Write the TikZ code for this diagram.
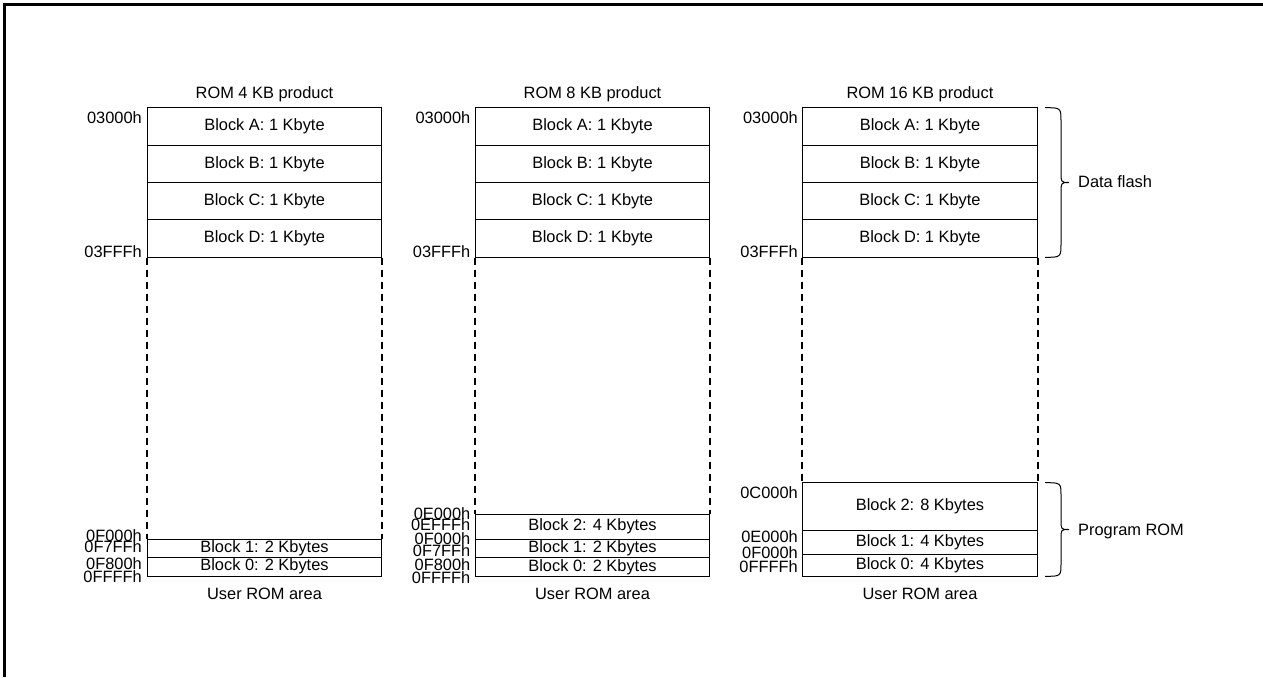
\documentclass[tikz,border=0pt]{standalone}
\usepackage{fontspec}
\setmainfont{Liberation Sans}
\begin{document}
\begin{tikzpicture}[x=1pt,y=-1pt,
  every node/.style={font=\fontsize{16.4}{19}\selectfont, inner sep=0pt},
  cell/.style={draw, line width=1pt, minimum width=234.5pt, minimum height=#1},
  addr/.style={anchor=east},
  dashline/.style={line width=2pt, dash pattern=on 7pt off 5pt},
  bracestyle/.style={line width=1pt},
  frameline/.style={line width=3pt}]
\useasboundingbox (0,0) rectangle (1263,677);
\draw[frameline] (4.5,677) -- (4.5,5) -- (1263,5);

% ---------- Column 1: ROM 4 KB ----------
\node (t1) at (264.5,94) {ROM 4 KB product};
\node[cell=37.4pt] (c1a) at (264.5,126.4) {Block A: 1 Kbyte};
\node[cell=37.4pt] (c1b) at (264.5,163.8) {Block B: 1 Kbyte};
\node[cell=37.4pt] (c1c) at (264.5,201.2) {Block C: 1 Kbyte};
\node[cell=37.4pt] (c1d) at (264.5,238.6) {Block D: 1 Kbyte};
\node[cell=18.5pt] (c1b1) at (264.5,548.25) {Block 1: 2 Kbytes};
\node[cell=18.5pt] (c1b0) at (264.5,566.75) {Block 0: 2 Kbytes};
\node (u1) at (264.5,593.5) {User ROM area};
\draw[dashline] (c1d.south west) -- (c1b1.north west);
\draw[dashline] (c1d.south east) -- (c1b1.north east);
\node[addr] (a1a) at (142,118) {03000h};
\node[addr] (a1b) at (142,252) {03FFFh};
\node[addr] (a1c) at (142,536) {0F000h};
\node[addr] (a1d) at (142,547) {0F7FFh};
\node[addr] (a1e) at (142,564) {0F800h};
\node[addr] (a1f) at (142,577) {0FFFFh};

% ---------- Column 2: ROM 8 KB ----------
\node (t2) at (592.5,94) {ROM 8 KB product};
\node[cell=37.4pt] (c2a) at (592.5,126.4) {Block A: 1 Kbyte};
\node[cell=37.4pt] (c2b) at (592.5,163.8) {Block B: 1 Kbyte};
\node[cell=37.4pt] (c2c) at (592.5,201.2) {Block C: 1 Kbyte};
\node[cell=37.4pt] (c2d) at (592.5,238.6) {Block D: 1 Kbyte};
\node[cell=25.3pt] (c2b2) at (592.5,526.65) {Block 2: 4 Kbytes};
\node[cell=18.4pt] (c2b1) at (592.5,548.5) {Block 1: 2 Kbytes};
\node[cell=18.3pt] (c2b0) at (592.5,566.85) {Block 0: 2 Kbytes};
\node (u2) at (592.5,593.5) {User ROM area};
\draw[dashline] (c2d.south west) -- (c2b2.north west);
\draw[dashline] (c2d.south east) -- (c2b2.north east);
\node[addr] (a2a) at (470.5,118) {03000h};
\node[addr] (a2b) at (470.5,252) {03FFFh};
\node[addr] (a2c) at (470.5,514) {0E000h};
\node[addr] (a2d) at (470.5,525) {0EFFFh};
\node[addr] (a2e) at (470.5,539) {0F000h};
\node[addr] (a2f) at (470.5,551) {0F7FFh};
\node[addr] (a2g) at (470.5,565) {0F800h};
\node[addr] (a2h) at (470.5,578) {0FFFFh};

% ---------- Column 3: ROM 16 KB ----------
\node (t3) at (920,94) {ROM 16 KB product};
\node[cell=37.4pt] (c3a) at (920,126.4) {Block A: 1 Kbyte};
\node[cell=37.4pt] (c3b) at (920,163.8) {Block B: 1 Kbyte};
\node[cell=37.4pt] (c3c) at (920,201.2) {Block C: 1 Kbyte};
\node[cell=37.4pt] (c3d) at (920,238.6) {Block D: 1 Kbyte};
\node[cell=47.3pt] (c3b2) at (920,506.35) {Block 2: 8 Kbytes};
\node[cell=24.3pt] (c3b1) at (920,542.15) {Block 1: 4 Kbytes};
\node[cell=22pt] (c3b0) at (920,565.3) {Block 0: 4 Kbytes};
\node (u3) at (920,593.5) {User ROM area};
\draw[dashline] (c3d.south west) -- (c3b2.north west);
\draw[dashline] (c3d.south east) -- (c3b2.north east);
\node[addr] (a3a) at (798,118) {03000h};
\node[addr] (a3b) at (798,252) {03FFFh};
\node[addr] (a3c) at (798,493) {0C000h};
\node[addr] (a3d) at (798,537) {0E000h};
\node[addr] (a3e) at (798,552.5) {0F000h};
\node[addr] (a3f) at (798,566.7) {0FFFFh};

% ---------- Braces ----------
\draw[bracestyle] (1045,107.7) .. controls (1061,107.7) .. (1061,122)
  -- (1061,172) .. controls (1061,182.5) .. (1069,182.5)
  .. controls (1061,182.5) .. (1061,193)
  -- (1061,243) .. controls (1061,257.3) .. (1045,257.3);
\node[anchor=west] (df) at (1078,181.7) {Data flash};

\draw[bracestyle] (1045,482.7) .. controls (1061,482.7) .. (1061,496)
  -- (1061,520) .. controls (1061,529.5) .. (1069,529.5)
  .. controls (1061,529.5) .. (1061,539)
  -- (1061,563) .. controls (1061,576.3) .. (1045,576.3);
\node[anchor=west] (pr) at (1078,531) {Program ROM};
\end{tikzpicture}
\end{document}
